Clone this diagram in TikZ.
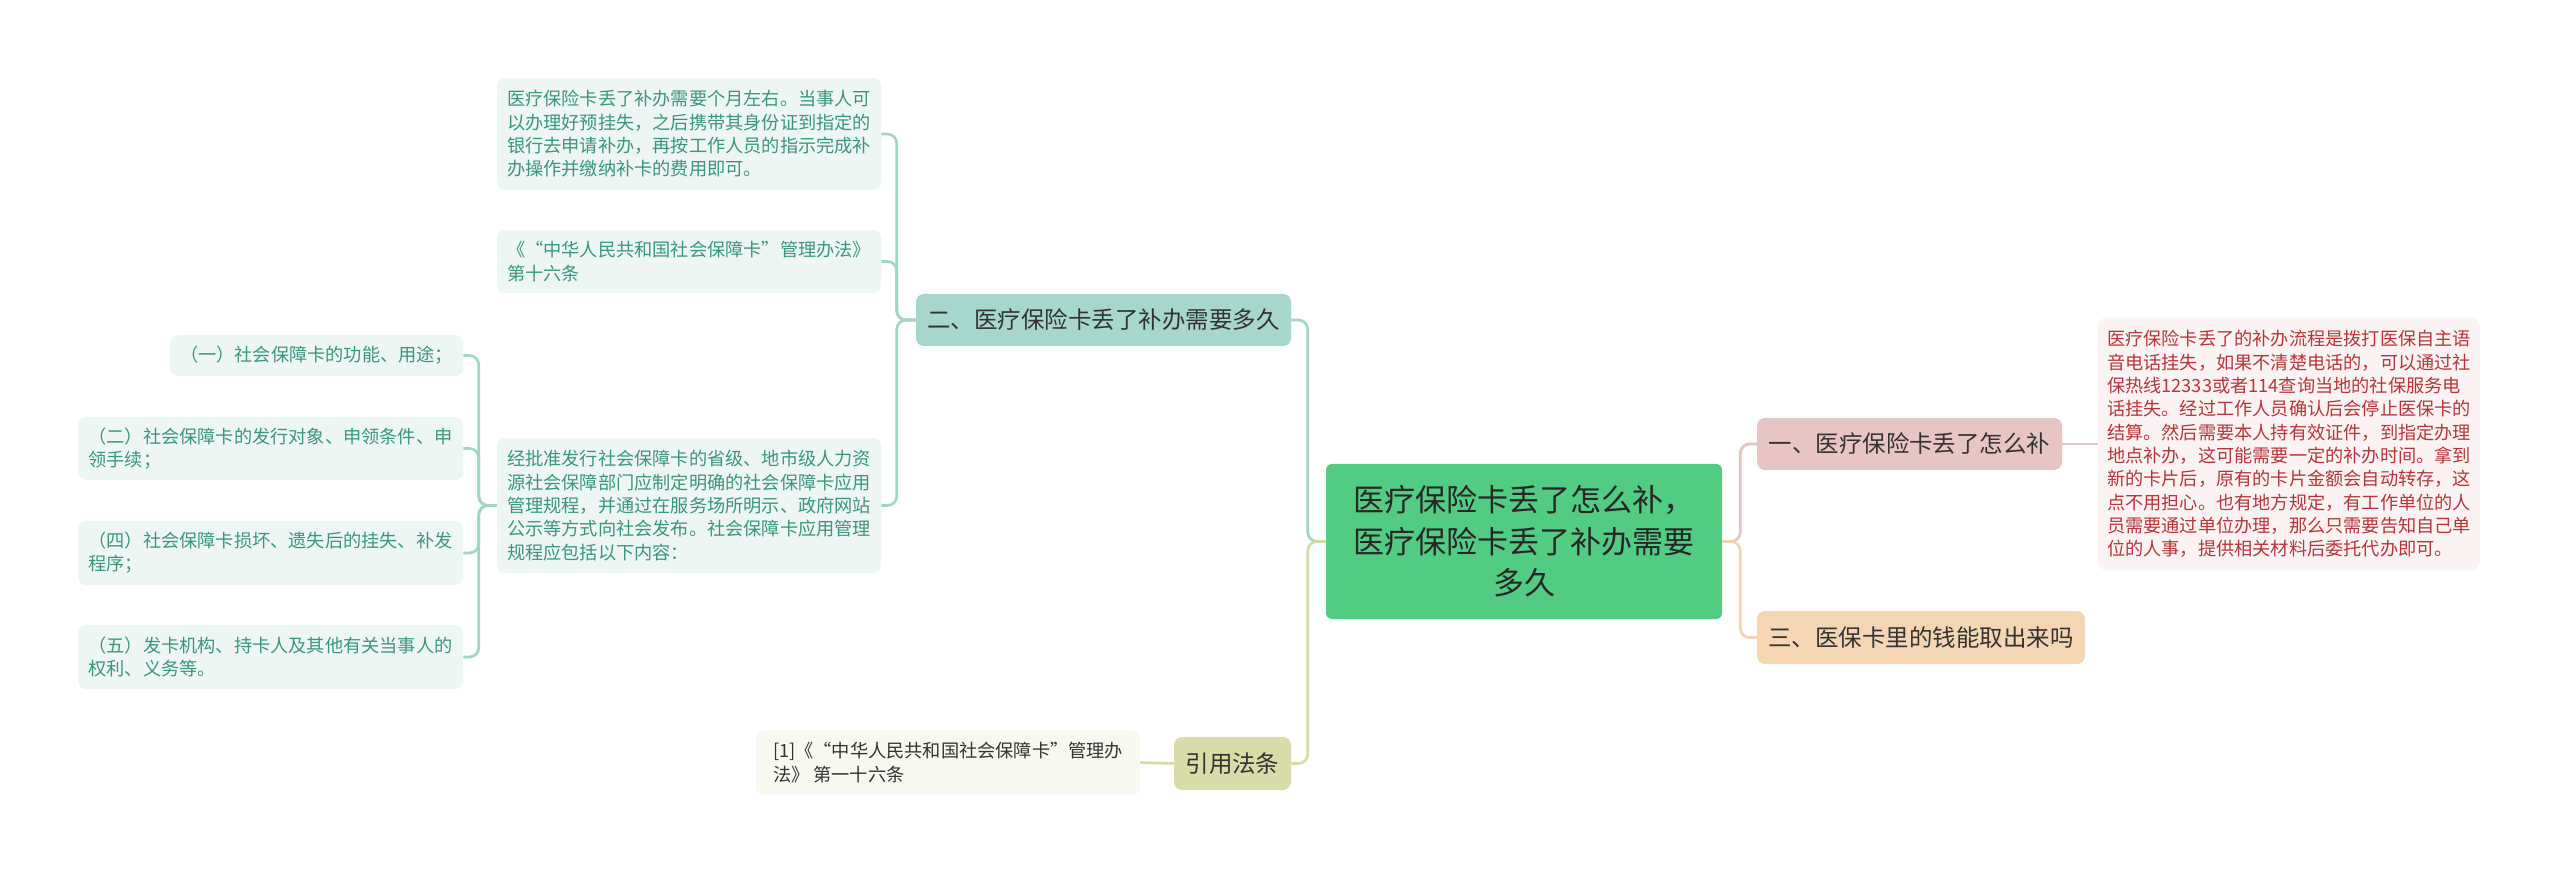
\documentclass[tikz,border=0pt]{standalone}
\usepackage{fontspec}
\setmainfont{Noto Sans CJK SC}
\definecolor{rootfill}{HTML}{52CC83}
\definecolor{tealfill}{HTML}{A7D6CC}
\definecolor{olivefill}{HTML}{D7DCA8}
\definecolor{pinkfill}{HTML}{E8C5C5}
\definecolor{peachfill}{HTML}{F4D6B4}
\definecolor{tealleaf}{HTML}{EEF6F4}
\definecolor{tealtext}{HTML}{3A9580}
\definecolor{pinkleaf}{HTML}{FBF3F3}
\definecolor{pinktext}{HTML}{B5363A}
\definecolor{oliveleaf}{HTML}{F7F8F0}
\definecolor{darktext}{HTML}{333333}
\definecolor{tealline}{HTML}{A3D4C8}
\definecolor{oliveline}{HTML}{D5DAA6}
\definecolor{pinkline}{HTML}{E6C2C2}
\definecolor{peachline}{HTML}{F2D3B2}
\tikzset{
  rootbox/.style={rounded corners=4.5pt, fill=rootfill, text=black!85, align=center, inner sep=0pt,
    font=\fontsize{23.25pt}{31.2pt}\selectfont},
  branchbox/.style={rounded corners=6pt, text=darktext, align=center, inner sep=0pt,
    font=\fontsize{17.6pt}{22pt}\selectfont},
  leafbox/.style={rounded corners=6pt, align=left, inner sep=0pt,
    font=\fontsize{13.65pt}{17.5pt}\selectfont},
  tleaf/.style={leafbox, fill=tealleaf, text=tealtext},
  pleaf/.style={leafbox, fill=pinkleaf, text=pinktext},
  oleaf/.style={leafbox, fill=oliveleaf, text=darktext},
  conn/.style={line width=2pt, rounded corners=7pt}
}
\begin{document}
\begin{tikzpicture}[x=0.75pt,y=-0.75pt]
\fill[white] (0,0) rectangle (2560,873);
\useasboundingbox (0,0) rectangle (2560,873);

% root
\node[rootbox, minimum width=297pt, minimum height=116.25pt] (root) at (1524,541.5)
  {医疗保险卡丢了怎么补，\\医疗保险卡丢了补办需要\\多久};

% right side
\node[branchbox, fill=pinkfill, minimum width=228.75pt, minimum height=39pt] (b1) at (1909.5,444)
  {一、医疗保险卡丢了怎么补};
\node[branchbox, fill=peachfill, minimum width=246pt, minimum height=39.75pt] (b3) at (1921,637.5)
  {三、医保卡里的钱能取出来吗};
\node[pleaf, minimum width=286.5pt, minimum height=189pt] (r1) at (2289,444)
  {医疗保险卡丢了的补办流程是拨打医保自主语\\音电话挂失，如果不清楚电话的，可以通过社\\保热线12333或者114查询当地的社保服务电\\话挂失。经过工作人员确认后会停止医保卡的\\结算。然后需要本人持有效证件，到指定办理\\地点补办，这可能需要一定的补办时间。拿到\\新的卡片后，原有的卡片金额会自动转存，这\\点不用担心。也有地方规定，有工作单位的人\\员需要通过单位办理，那么只需要告知自己单\\位的人事，提供相关材料后委托代办即可。};

% left side
\node[branchbox, fill=tealfill, minimum width=281.25pt, minimum height=39pt] (b2) at (1103.5,320)
  {二、医疗保险卡丢了补办需要多久};
\node[branchbox, fill=olivefill, minimum width=87.75pt, minimum height=39.75pt] (b4) at (1232.5,763.5)
  {引用法条};
\node[oleaf, minimum width=288pt, minimum height=48.75pt] (ref) at (948,762.5)
  {[1]《“中华人民共和国社会保障卡”管理办\\法》 第一十六条};

\node[tleaf, minimum width=288pt, minimum height=84pt] (l1) at (689,134)
  {医疗保险卡丢了补办需要个月左右。当事人可\\以办理好预挂失，之后携带其身份证到指定的\\银行去申请补办，再按工作人员的指示完成补\\办操作并缴纳补卡的费用即可。};
\node[tleaf, minimum width=288pt, minimum height=47.25pt] (l2) at (689,261.5)
  {《“中华人民共和国社会保障卡”管理办法》\\第十六条};
\node[tleaf, minimum width=288pt, minimum height=101.25pt] (l3) at (689,505.5)
  {经批准发行社会保障卡的省级、地市级人力资\\源社会保障部门应制定明确的社会保障卡应用\\管理规程，并通过在服务场所明示、政府网站\\公示等方式向社会发布。社会保障卡应用管理\\规程应包括以下内容：};

\node[tleaf, minimum width=219.75pt, minimum height=30.75pt] (c1) at (316.5,355.5)
  {（一）社会保障卡的功能、用途；};
\node[tleaf, minimum width=288.75pt, minimum height=47.25pt] (c2) at (270.5,448.5)
  {（二）社会保障卡的发行对象、申领条件、申\\领手续；};
\node[tleaf, minimum width=288.75pt, minimum height=48pt] (c4) at (270.5,553)
  {（四）社会保障卡损坏、遗失后的挂失、补发\\程序；};
\node[tleaf, minimum width=288.75pt, minimum height=48pt] (c5) at (270.5,657)
  {（五）发卡机构、持卡人及其他有关当事人的\\权利、义务等。};

% connectors
\draw[conn, pinkline] (root.east) -- ++(18,0) |- (b1.west);
\draw[conn, peachline] (root.east) -- ++(18,0) |- (b3.west);
\draw[conn, pinkline] (b1.east) -- (r1.west);

\draw[conn, tealline] (root.west) -- ++(-18,0) |- (b2.east);
\draw[conn, oliveline] (root.west) -- ++(-18,0) |- (b4.east);
\draw[conn, oliveline] (b4.west) -- (ref.east);

\draw[conn, tealline] (b2.west) -- ++(-19,0) |- (l1.east);
\draw[conn, tealline] (b2.west) -- ++(-19,0) |- (l2.east);
\draw[conn, tealline] (b2.west) -- ++(-19,0) |- (l3.east);

\draw[conn, tealline] (l3.west) -- ++(-18,0) |- (c1.east);
\draw[conn, tealline] (l3.west) -- ++(-18,0) |- (c2.east);
\draw[conn, tealline] (l3.west) -- ++(-18,0) |- (c4.east);
\draw[conn, tealline] (l3.west) -- ++(-18,0) |- (c5.east);
\end{tikzpicture}
\end{document}
